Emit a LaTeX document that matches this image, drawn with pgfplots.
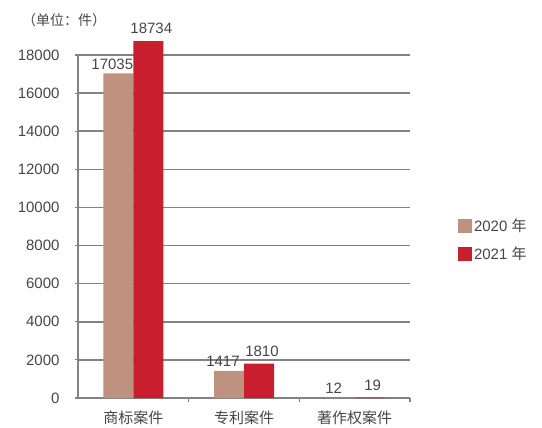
\documentclass[border=0pt]{standalone}
\usepackage{pgfplots}
\pgfplotsset{compat=1.18}
\usepackage{fontspec}
\setmainfont{Liberation Sans}
\newfontfamily\cjk{Noto Sans CJK SC}
\definecolor{tan20}{RGB}{190,146,126}
\definecolor{red21}{RGB}{200,30,45}
\definecolor{gridgray}{RGB}{130,130,130}
\definecolor{txt}{RGB}{70,70,70}
\begin{document}
\begin{tikzpicture}
\path (0,0) rectangle (542bp,428bp);
\node[anchor=west, text=txt, font=\cjk\fontsize{14bp}{16bp}\selectfont, inner sep=0pt] at (22bp,408bp) {（单位：件）};
\begin{axis}[
  at={(78bp,30bp)}, anchor=south west,
  scale only axis, width=332bp, height=343bp,
  ybar=0pt, bar width=30bp,
  xmin=-0.5, xmax=2.5, ymin=0, ymax=18000,
  xtick={0,1,2},
  xticklabels={{\cjk 商标案件},{\cjk 专利案件},{\cjk 著作权案件}},
  minor xtick={0.5,1.5,2.5},
  major x tick style={draw=none},
  minor x tick style={gridgray, line width=1.2pt},
  xtick align=outside, minor tick length=4bp,
  ytick={0,2000,...,18000}, scaled y ticks=false,
  ytick align=outside, major tick length=3bp,
  ytick style={gridgray, line width=1.2pt},
  ymajorgrids, grid style={gridgray, line width=1.6pt},
  axis x line*=bottom, axis y line*=left,
  axis line style={gridgray, line width=1.6pt, -},
  tick label style={text=txt, font=\fontsize{15bp}{17bp}\selectfont},
  yticklabel style={xshift=-12bp},
  xticklabel style={yshift=-6bp},
  /pgf/number format/.cd, 1000 sep={}, assume math mode=true, /pgfplots/.cd,
  nodes near coords, point meta=rawy,
  nodes near coords style={text=txt, font=\fontsize{15bp}{17bp}\selectfont, inner sep=2bp},
  clip=false,
  legend style={at={(1.135,0.46)}, anchor=west, draw=none, fill=none,
    font=\fontsize{15bp}{17bp}\selectfont, text=txt, row sep=10bp},
  legend cell align=left,
  legend image code/.code={\fill[#1] (0bp,-7bp) rectangle (14bp,7bp);},
]
\addplot[fill=tan20, draw=none, nodes near coords style={xshift=-6bp, yshift=2bp}]
  coordinates {(0,17035) (1,1417) (2,12)};
\addplot[fill=red21, draw=none, nodes near coords style={xshift=3bp, yshift=5bp}]
  coordinates {(0,18734) (1,1810) (2,19)};
\legend{2020 {\cjk 年}, 2021 {\cjk 年}}
\end{axis}
\end{tikzpicture}
\end{document}
